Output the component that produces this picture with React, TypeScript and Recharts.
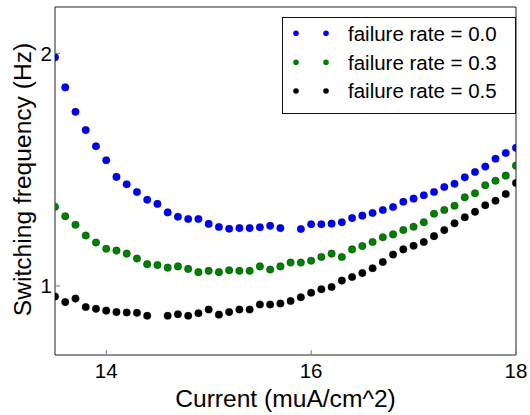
import React from 'react';
import { ScatterChart, Scatter, XAxis, YAxis, Legend } from 'recharts';

// Injected current (muA/cm^2)
const currents = [
  13.5, 13.6, 13.7, 13.8, 13.9, 14.0, 14.1, 14.2, 14.3, 14.4,
  14.5, 14.6, 14.7, 14.8, 14.9, 15.0, 15.1, 15.2, 15.3, 15.4,
  15.5, 15.6, 15.7, 15.8, 15.9, 16.0, 16.1, 16.2, 16.3, 16.4,
  16.5, 16.6, 16.7, 16.8, 16.9, 17.0, 17.1, 17.2, 17.3, 17.4,
  17.5, 17.6, 17.7, 17.8, 17.9, 18.0,
];

// Switching frequency (Hz) per failure rate; null = no switching measured
const rate00 = [
  1.976, 1.807, 1.680, 1.591, 1.516, 1.454, 1.384, 1.354, 1.323, 1.293,
  1.277, 1.245, 1.229, 1.221, 1.221, 1.203, 1.192, 1.186, 1.188, 1.188,
  1.191, 1.196, 1.188, null, 1.185, 1.202, 1.202, 1.204, 1.209, 1.224,
  1.233, 1.243, 1.254, 1.265, 1.285, 1.297, 1.310, 1.323, 1.343, 1.356,
  1.382, 1.404, 1.427, 1.461, 1.486, 1.509,
];
const rate03 = [
  1.266, 1.231, 1.200, 1.162, 1.138, 1.117, 1.111, 1.101, 1.085, 1.067,
  1.064, 1.056, 1.060, 1.052, 1.042, 1.046, 1.042, 1.048, 1.046, 1.046,
  1.060, 1.050, 1.060, 1.072, 1.072, 1.078, 1.090, 1.101, 1.090, 1.115,
  1.126, 1.140, 1.156, 1.166, 1.181, 1.193, 1.209, 1.240, 1.254, 1.270,
  1.302, 1.318, 1.350, 1.368, 1.389, 1.431,
];
const rate05 = [
  0.969, 0.953, 0.963, 0.939, 0.934, 0.929, 0.925, 0.924, 0.923, 0.915,
  null, 0.915, 0.919, 0.915, 0.922, 0.932, 0.918, 0.925, 0.932, 0.932,
  0.946, 0.946, 0.949, 0.956, 0.967, 0.980, 0.990, 0.997, 1.016, 1.027,
  1.039, 1.054, 1.074, 1.098, 1.115, 1.127, 1.140, 1.160, 1.181, 1.205,
  1.227, 1.247, 1.272, 1.289, 1.315, 1.359,
];

const seriesNames = ['failure rate = 0.0', 'failure rate = 0.3', 'failure rate = 0.5'];
const seriesColors = ['#0000ff', '#008000', '#000000'];
const seriesValues = [rate00, rate03, rate05];

const xTicks = [14, 16, 18];
const yTicks = [1, 2];
const xDomain: [number, number] = [13.5, 18];
const yDomain: [number, number] = [0.814, 2.296];

const FONT = '"Liberation Sans", Arial, Helvetica, sans-serif';
const AXIS = '#222';
const TICK = '#777';

const toPoints = (vals: (number | null)[]) =>
  currents
    .map((c, i) => ({ current: c, freq: vals[i] }))
    .filter((p) => p.freq != null);

const series = seriesNames.map((name, i) => ({
  name,
  color: seriesColors[i],
  data: toPoints(seriesValues[i]),
}));

const Dot = (props: any) => {
  const { cx, cy, fill } = props;
  if (cx == null || cy == null) return <g />;
  return <circle cx={cx} cy={cy} r={3.8} fill={fill} stroke="#000" strokeWidth={0.4} strokeOpacity={0.6} />;
};

// Bottom tick: label below the axis, short tick mark pointing into the plot
const BottomTick = (props: any) => {
  const { x, y, payload } = props;
  return (
    <g>
      <line x1={x} x2={x} y1={y} y2={y - 5} stroke={TICK} strokeWidth={1} />
      <text x={x} y={y + 22.5} textAnchor="middle" fontFamily={FONT} fontSize={20.5} fill="#000">
        {payload.value}
      </text>
    </g>
  );
};

// Left tick: label left of the axis, tick mark pointing into the plot
const LeftTick = (props: any) => {
  const { x, y, payload } = props;
  return (
    <g>
      <line x1={x} x2={x + 5} y1={y} y2={y} stroke={TICK} strokeWidth={1} />
      <text x={x - 3} y={y + 7.4} textAnchor="end" fontFamily={FONT} fontSize={20.5} fill="#000">
        {payload.value}
      </text>
    </g>
  );
};

const XLabel = (props: any) => {
  const vb = props.viewBox || { x: 0, y: 0, width: 0, height: 0 };
  return (
    <text x={vb.x + vb.width / 2} y={vb.y + 51.5} textAnchor="middle" fontFamily={FONT} fontSize={24.6} fill="#000">
      Current (muA/cm^2)
    </text>
  );
};

const YLabel = (props: any) => {
  const vb = props.viewBox || { x: 0, y: 0, width: 0, height: 0 };
  const cx = vb.x + 31;
  const cy = vb.y + vb.height / 2 - 1.5;
  return (
    <text
      x={cx}
      y={cy}
      transform={`rotate(-90, ${cx}, ${cy})`}
      textAnchor="middle"
      fontFamily={FONT}
      fontSize={24.6}
      fill="#000"
    >
      Switching frequency (Hz)
    </text>
  );
};

const LegendBox = () => {
  const rowY = [16.3, 45.3, 74];
  return (
    <svg width={234} height={97} style={{ display: 'block' }}>
      <rect x={0.5} y={0.5} width={233} height={96} fill="#fff" stroke="#111" strokeWidth={1} />
      {series.map((s, i) => (
        <g key={s.name}>
          <circle cx={14} cy={rowY[i]} r={2.8} fill={s.color} />
          <circle cx={44} cy={rowY[i]} r={2.8} fill={s.color} />
          <text x={66} y={rowY[i] + 7.4} fontFamily={FONT} fontSize={20.5} fill="#000">
            {s.name}
          </text>
        </g>
      ))}
    </svg>
  );
};

export default function App() {
  return (
    <div style={{ position: 'absolute', left: 0, top: 0, width: 530, height: 415, background: '#fff' }}>
      <ScatterChart width={530} height={415} margin={{ top: 7, right: 14, bottom: 0, left: 0 }}>
        <XAxis
          dataKey="current"
          type="number"
          domain={xDomain}
          allowDataOverflow
          ticks={xTicks}
          interval={0}
          height={60}
          tickSize={0}
          tickMargin={0}
          tickLine={false}
          axisLine={{ stroke: AXIS, strokeWidth: 1 }}
          tick={(p: any) => <BottomTick {...p} />}
          label={<XLabel />}
        />
        <XAxis
          xAxisId="top"
          orientation="top"
          mirror
          type="number"
          domain={xDomain}
          allowDataOverflow
          ticks={xTicks}
          interval={0}
          tickSize={5}
          tick={false}
          tickLine={{ stroke: TICK }}
          axisLine={{ stroke: AXIS, strokeWidth: 1 }}
        />
        <YAxis
          dataKey="freq"
          type="number"
          scale="log"
          domain={yDomain}
          allowDataOverflow
          ticks={yTicks}
          interval={0}
          width={55}
          tickSize={0}
          tickMargin={0}
          tickLine={false}
          axisLine={{ stroke: AXIS, strokeWidth: 1 }}
          tick={(p: any) => <LeftTick {...p} />}
          label={<YLabel />}
        />
        <YAxis
          yAxisId="right"
          orientation="right"
          mirror
          type="number"
          scale="log"
          domain={yDomain}
          allowDataOverflow
          ticks={yTicks}
          interval={0}
          tickSize={5}
          tick={false}
          tickLine={{ stroke: TICK }}
          axisLine={{ stroke: AXIS, strokeWidth: 1 }}
        />
        {series.map((s) => (
          <Scatter
            key={s.name}
            name={s.name}
            data={s.data}
            dataKey="freq"
            fill={s.color}
            shape={<Dot />}
            isAnimationActive={false}
          />
        ))}
        <Legend
          layout="horizontal"
          verticalAlign="middle"
          align="center"
          wrapperStyle={{ position: 'absolute', left: 282, top: 17, width: 234, height: 97 }}
          content={() => <LegendBox />}
        />
      </ScatterChart>
    </div>
  );
}
